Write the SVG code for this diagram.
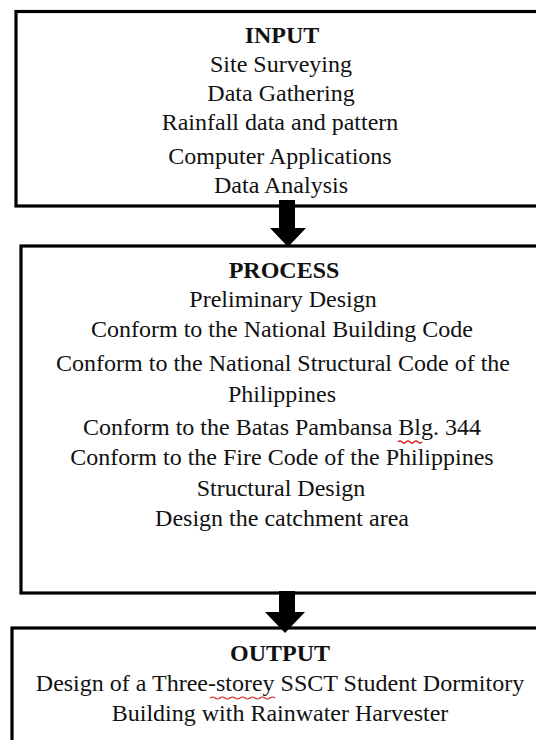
<svg xmlns="http://www.w3.org/2000/svg" width="536" height="740" viewBox="0 0 536 740">
<style>
.box{fill:#fff;stroke:#000;stroke-width:3.2}
text{font-family:"Liberation Serif","Times New Roman",serif;font-size:24px;fill:#111;text-anchor:middle}
.h{font-weight:bold}
.arr{fill:#000}
.sq{fill:none;stroke:#d42020;stroke-width:1.2}
</style>
<rect width="536" height="740" fill="#fff"/>
<g id="input">
<rect class="box" x="16" y="11.5" width="540" height="194.5"/>
<text class="h" x="282" y="43">INPUT</text>
<text x="281" y="72">Site Surveying</text>
<text x="281" y="101">Data Gathering</text>
<text x="280" y="130">Rainfall data and pattern</text>
<text x="280" y="164">Computer Applications</text>
<text x="281" y="193">Data Analysis</text>
</g>
<g id="process">
<rect class="box" x="21" y="246" width="540" height="347"/>
<text class="h" x="284" y="278">PROCESS</text>
<text x="283" y="307">Preliminary Design</text>
<text x="282" y="337">Conform to the National Building Code</text>
<text x="283" y="371">Conform to the National Structural Code of the</text>
<text x="282" y="402">Philippines</text>
<text x="282" y="435">Conform to the Batas Pambansa Blg. 344</text>
<text x="282" y="465">Conform to the Fire Code of the Philippines</text>
<text x="281" y="496">Structural Design</text>
<text x="282" y="526">Design the catchment area</text>
<path class="sq" d="M398 442 q2 -2 4 0 t4 0 t4 0 t4 0 t4 0 t4 0"/>
</g>
<g id="output">
<rect class="box" x="12" y="628" width="540" height="130"/>
<text class="h" x="280" y="661">OUTPUT</text>
<text x="280" y="691">Design of a Three-storey SSCT Student Dormitory</text>
<text x="280" y="721">Building with Rainwater Harvester</text>
<path class="sq" d="M210 698 q2.5 -2 5 0 t5 0 t5 0 t5 0 t5 0 t5 0 t5 0 t5 0 t5 0 t5 0 t5 0 t5 0 t5 0"/>
</g>
<g id="connectors">
<polygon class="arr" points="279,200 295,200 295,228 306,228 288,247 270,228 279,228"/>
<polygon class="arr" points="279,591 295,591 295,612 305,612 285,633 265,612 279,612"/>
</g>
</svg>
